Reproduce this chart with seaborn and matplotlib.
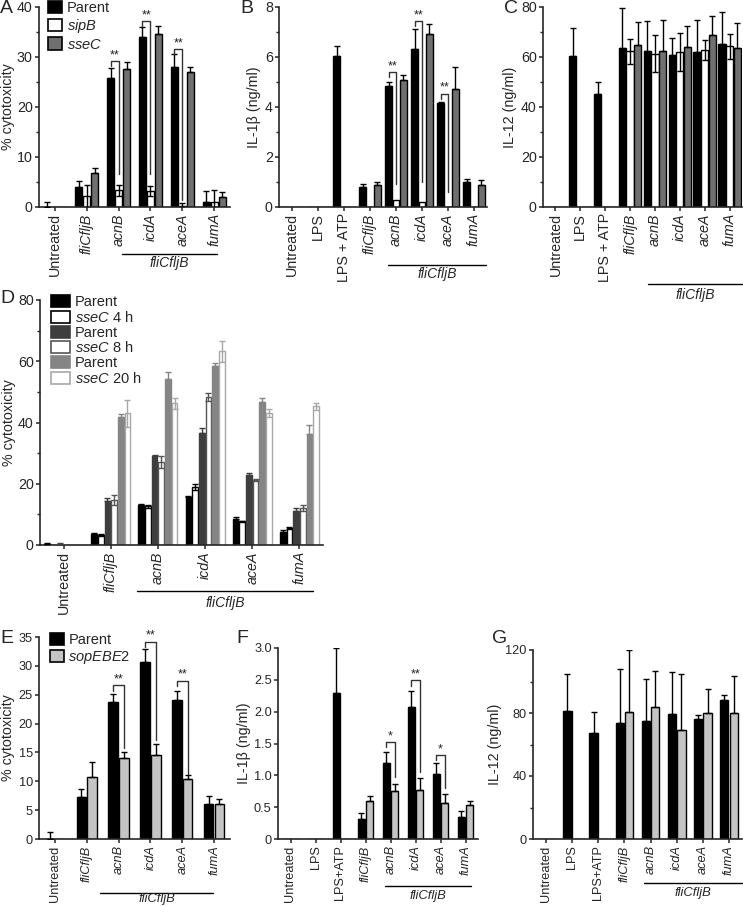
import numpy as np
import pandas as pd
import matplotlib
matplotlib.use("Agg")
import matplotlib.pyplot as plt
import matplotlib.transforms as mtransforms
from matplotlib.ticker import MultipleLocator
from matplotlib.patches import Patch
import seaborn as sns

# ---------------- data ----------------
# Panel A: % cytotoxicity
a_groups = ["Untreated", "fliCfljB", "acnB", "icdA", "aceA", "fumA"]
a_parent = [0, 4.0, 25.8, 33.9, 27.9, 1.0]
a_parent_err = [1.0, 1.1, 1.9, 2.0, 2.6, 2.3]
a_sipB = [0, 2.2, 3.4, 3.2, 0.3, 1.0]
a_sipB_err = [0, 2.3, 1.1, 0.9, 0.5, 2.5]
a_sseC = [0, 6.7, 27.6, 34.6, 27.0, 2.1]
a_sseC_err = [0, 1.1, 1.3, 1.5, 1.0, 0.9]
a_sig = [("acnB", 29.1, 6.5, "**"), ("icdA", 37.1, 6.5, "**"), ("aceA", 31.5, 1.4, "**")]

# Panel B: IL-1beta
b_groups = ["Untreated", "LPS", "LPS + ATP", "fliCfljB", "acnB", "icdA", "aceA", "fumA"]
b_parent = [0, 0, 6.05, 0.80, 4.83, 6.33, 4.15, 1.00]
b_parent_err = [0, 0, 0.37, 0.13, 0.17, 0.80, 0.03, 0.10]
b_sipB = [0, 0, 0, 0, 0.30, 0.22, 0, 0]
b_sipB_err = [0, 0, 0, 0, 0, 0, 0, 0]
b_sseC = [0, 0, 0, 0.87, 5.07, 6.93, 4.73, 0.90]
b_sseC_err = [0, 0, 0, 0.15, 0.22, 0.37, 0.87, 0.17]
b_sig = [("acnB", 5.4, 0.93, "**"), ("icdA", 7.43, 1.0, "**"), ("aceA", 4.53, 0.6, "**")]

# Panel C: IL-12
c_groups = b_groups
c_parent = [0, 60.5, 45.3, 63.5, 62.5, 60.8, 62.1, 65.1]
c_parent_err = [0, 11.1, 4.7, 16.2, 12.0, 6.9, 12.6, 13.0]
c_sipB = [0, 0, 0, 62.3, 61.3, 62.1, 62.7, 64.3]
c_sipB_err = [0, 0, 0, 5.0, 7.4, 7.6, 4.0, 5.0]
c_sseC = [0, 0, 0, 64.6, 62.5, 64.0, 68.9, 63.5]
c_sseC_err = [0, 0, 0, 9.5, 12.2, 8.3, 7.6, 10.1]

# Panel D: % cytotoxicity over time
d_groups = ["Untreated", "fliCfljB", "acnB", "icdA", "aceA", "fumA"]
d_parent_4h = [0.2, 3.6, 13.0, 15.6, 8.6, 4.3]
d_parent_4h_err = [0.5, 0.4, 0.4, 0.3, 0.6, 0.5]
d_sseC_4h = [0, 3.3, 12.7, 19.0, 7.7, 5.6]
d_sseC_4h_err = [0, 0.3, 0.5, 1.0, 0.2, 0.3]
d_parent_8h = [0.1, 14.3, 29.0, 36.7, 22.8, 11.2]
d_parent_8h_err = [0.4, 1.0, 0.5, 1.5, 0.8, 0.8]
d_sseC_8h = [0, 14.8, 27.0, 48.3, 21.2, 12.0]
d_sseC_8h_err = [0, 1.6, 1.9, 1.3, 0.3, 1.0]
d_parent_20h = [0, 41.8, 54.3, 58.6, 46.6, 36.1]
d_parent_20h_err = [0, 1.0, 2.2, 0.8, 1.3, 3.2]
d_sseC_20h = [0, 43.0, 46.3, 63.3, 43.1, 45.3]
d_sseC_20h_err = [0, 4.5, 1.8, 3.4, 1.2, 1.2]

# Panel E: % cytotoxicity, sopEBE2
e_groups = a_groups
e_parent = [0, 7.2, 23.8, 30.6, 24.1, 6.1]
e_parent_err = [1.15, 1.4, 1.3, 2.3, 1.6, 1.4]
e_sop = [0, 10.8, 14.1, 14.6, 10.4, 6.0]
e_sop_err = [0, 2.5, 1.0, 1.8, 0.7, 1.0]
e_sig = [("acnB", 26.6, 15.75, "**"), ("icdA", 34.2, 17.2, "**"), ("aceA", 27.4, 11.3, "**")]

# Panel F: IL-1beta, sopEBE2
f_groups = ["Untreated", "LPS", "LPS+ATP", "fliCfljB", "acnB", "icdA", "aceA", "fumA"]
f_parent = [0, 0, 2.30, 0.32, 1.20, 2.07, 1.02, 0.35]
f_parent_err = [0, 0, 0.70, 0.09, 0.17, 0.26, 0.18, 0.09]
f_sop = [0, 0, 0, 0.59, 0.75, 0.77, 0.56, 0.53]
f_sop_err = [0, 0, 0, 0.09, 0.12, 0.19, 0.15, 0.07]
f_sig = [("acnB", 1.52, 0.98, "*"), ("icdA", 2.49, 1.06, "**"), ("aceA", 1.32, 0.80, "*")]

# Panel G: IL-12, sopEBE2
g_groups = f_groups
g_parent = [0, 81.0, 67.2, 73.6, 75.0, 79.3, 76.1, 88.4]
g_parent_err = [0, 24.0, 13.3, 34.4, 26.5, 26.7, 2.7, 3.1]
g_sop = [0, 0, 0, 80.5, 83.7, 69.3, 79.9, 80.3]
g_sop_err = [0, 0, 0, 39.5, 22.8, 35.7, 15.1, 23.5]

# ---------------- style ----------------
sns.set_style("ticks")
plt.rcParams["font.family"] = ["Liberation Sans", "DejaVu Sans"]
plt.rcParams["mathtext.fontset"] = "custom"
plt.rcParams["mathtext.rm"] = "Liberation Sans"
plt.rcParams["mathtext.it"] = "Liberation Sans:italic"
plt.rcParams["axes.linewidth"] = 1.2
plt.rcParams["axes.labelpad"] = 2.5
plt.rcParams["xtick.major.width"] = 1.1
plt.rcParams["ytick.major.width"] = 1.1
plt.rcParams["ytick.minor.width"] = 1.0

W, H = 743, 906
fig = plt.figure(figsize=(W / 100, H / 100), dpi=100)

PLAIN = {"Untreated", "LPS", "LPS + ATP", "LPS+ATP"}
BLACK, WHITE = "#000000", "#ffffff"


def make_ax(x0, y0, x1, y1):
    return fig.add_axes([x0 / W, 1 - y1 / H, (x1 - x0) / W, (y1 - y0) / H])


def bars(ax, groups, names, vals, errs, fills, edges, width, gap, two_sided, fs=10.3):
    rows = []
    for n, vs in zip(names, vals):
        for g, v in zip(groups, vs):
            rows.append((g, n, v))
    df = pd.DataFrame(rows, columns=["group", "series", "value"])
    sns.barplot(data=df, x="group", y="value", hue="series", order=groups,
                hue_order=names, palette=dict(zip(names, fills)), saturation=1,
                width=width, gap=gap, errorbar=None, edgecolor="black",
                linewidth=1, legend=False, ax=ax)
    for cont, err, edge, two in zip(ax.containers, errs, edges, two_sided):
        xs, hs, lo, hi = [], [], [], []
        for bar, e in zip(cont, err):
            bar.set_edgecolor(edge)
            if e > 0:
                xs.append(bar.get_x() + bar.get_width() / 2)
                hs.append(bar.get_height())
                lo.append(e if two else 0)
                hi.append(e)
        if xs:
            ax.errorbar(xs, hs, yerr=[lo, hi], fmt="none", ecolor=edge,
                        elinewidth=1, capsize=2, capthick=1, zorder=3)
    ax.set_xlim(-0.5, len(groups) - 0.5)
    ax.set_xlabel("")
    ax.set_xticks(range(len(groups)))
    ax.set_xticklabels(groups, rotation=90, fontsize=fs)
    for lab, g in zip(ax.get_xticklabels(), groups):
        if g not in PLAIN:
            lab.set_fontstyle("italic")
    ax.tick_params(axis="x", length=3, pad=1.5)
    ax.tick_params(axis="y", labelsize=fs, length=3, pad=1.5)
    ax.tick_params(axis="y", which="minor", length=2)
    sns.despine(ax=ax)


def bracket(ax, groups, sig, tick):
    for g, top, low, lab in sig:
        i = groups.index(g)
        b0 = ax.containers[0][i]
        b1 = ax.containers[1][i]
        x0 = b0.get_x() + b0.get_width() / 2
        x1 = b1.get_x() + b1.get_width() / 2
        ax.plot([x0, x0, x1, x1], [top - tick, top, top, low], color="#333333",
                lw=1, zorder=4, clip_on=False)
        ax.text((x0 + x1) / 2, top, lab, ha="center", va="bottom",
                fontsize=9, color="#222222")


def under(ax, x0, x1, line_px, text_px, fs=10):
    base = mtransforms.blended_transform_factory(ax.transData, ax.transAxes)
    t_line = base + mtransforms.ScaledTranslation(0, -line_px / 100, fig.dpi_scale_trans)
    t_text = base + mtransforms.ScaledTranslation(0, -text_px / 100, fig.dpi_scale_trans)
    ax.plot([x0, x1], [0, 0], transform=t_line, color="black", lw=1, clip_on=False)
    ax.text((x0 + x1) / 2, 0, "fliCfljB", transform=t_text, ha="center",
            va="center", fontsize=fs, fontstyle="italic")


def legend(ax, labels, fills, edges, anchor, hl=1.0, spacing=0.15):
    handles = [Patch(facecolor=f, edgecolor=e, linewidth=1.2, label=l)
               for l, f, e in zip(labels, fills, edges)]
    ax.legend(handles=handles, loc="upper left", bbox_to_anchor=anchor,
              frameon=False, fontsize=10.5, handlelength=hl, handleheight=0.9,
              handletextpad=0.3, labelspacing=spacing, borderpad=0,
              borderaxespad=0)


GRAY = "#707070"
LIGHT = "#c4c4c4"

# ---------------- A ----------------
ax = make_ax(39, 7, 230, 207)
bars(ax, a_groups, ["Parent", "sipB", "sseC"], [a_parent, a_sipB, a_sseC],
     [a_parent_err, a_sipB_err, a_sseC_err], [BLACK, WHITE, GRAY],
     [BLACK, BLACK, BLACK], 0.75, 0.12, [False, True, False])
ax.set_ylim(0, 40)
ax.yaxis.set_major_locator(MultipleLocator(10))
ax.yaxis.set_minor_locator(MultipleLocator(5))
ax.set_ylabel("% cytotoxicity", fontsize=10.3, labelpad=1)
bracket(ax, a_groups, a_sig, 1.0)
under(ax, 2.1, 5.1, 47, 56)
legend(ax, ["Parent", r"$\it{sipB}$", r"$\it{sseC}$"], [BLACK, WHITE, GRAY],
       [BLACK, BLACK, BLACK], (0.045, 1.03))

# ---------------- B ----------------
ax = make_ax(279, 7, 487, 207)
bars(ax, b_groups, ["Parent", "sipB", "sseC"], [b_parent, b_sipB, b_sseC],
     [b_parent_err, b_sipB_err, b_sseC_err], [BLACK, WHITE, GRAY],
     [BLACK, BLACK, BLACK], 0.85, 0.12, [False, True, False])
ax.set_ylim(0, 8)
ax.yaxis.set_major_locator(MultipleLocator(2))
ax.yaxis.set_minor_locator(MultipleLocator(1))
ax.set_ylabel("IL-1β (ng/ml)", fontsize=10.3)
bracket(ax, b_groups, b_sig, 0.2)
under(ax, 3.7, 7.45, 58, 67)

# ---------------- C ----------------
ax = make_ax(543, 7, 742, 207)
bars(ax, c_groups, ["Parent", "sipB", "sseC"], [c_parent, c_sipB, c_sseC],
     [c_parent_err, c_sipB_err, c_sseC_err], [BLACK, WHITE, GRAY],
     [BLACK, BLACK, BLACK], 0.92, 0.05, [False, True, False])
ax.set_ylim(0, 80)
ax.yaxis.set_major_locator(MultipleLocator(20))
ax.yaxis.set_minor_locator(MultipleLocator(10))
ax.set_ylabel("IL-12 (ng/ml)", fontsize=10.3)
under(ax, 3.72, 7.5, 77, 88)

# ---------------- D ----------------
ax = make_ax(40, 300, 323, 545)
d_names = ["P4", "S4", "P8", "S8", "P20", "S20"]
d_fills = [BLACK, WHITE, "#3e3e3e", WHITE, "#858585", WHITE]
d_edges = [BLACK, BLACK, "#3e3e3e", "#555555", "#858585", "#a8a8a8"]
bars(ax, d_groups, d_names,
     [d_parent_4h, d_sseC_4h, d_parent_8h, d_sseC_8h, d_parent_20h, d_sseC_20h],
     [d_parent_4h_err, d_sseC_4h_err, d_parent_8h_err, d_sseC_8h_err,
      d_parent_20h_err, d_sseC_20h_err],
     d_fills, d_edges, 0.85, 0.15, [False, True, False, True, False, True])
ax.set_ylim(0, 80)
ax.yaxis.set_major_locator(MultipleLocator(20))
ax.yaxis.set_minor_locator(MultipleLocator(10))
ax.set_ylabel("% cytotoxicity", fontsize=10.3, labelpad=1.5)
under(ax, 1.56, 5.28, 46, 58)
legend(ax, ["Parent", r"$\it{sseC}$ 4 h", "Parent", r"$\it{sseC}$ 8 h", "Parent",
            r"$\it{sseC}$ 20 h"], d_fills, d_edges, (0.04, 1.02), hl=1.3,
       spacing=0.05)

# ---------------- E ----------------
ax = make_ax(39, 637, 230, 839)
bars(ax, e_groups, ["Parent", "sopEBE2"], [e_parent, e_sop],
     [e_parent_err, e_sop_err], [BLACK, LIGHT], [BLACK, BLACK], 0.68, 0.12,
     [False, False], fs=9.2)
ax.set_ylim(0, 35)
ax.yaxis.set_major_locator(MultipleLocator(5))
ax.set_ylabel("% cytotoxicity", fontsize=10.3)
bracket(ax, e_groups, e_sig, 0.9)
under(ax, 1.42, 4.97, 54, 60, fs=9.4)
legend(ax, ["Parent", r"$\it{sopEBE2}$"], [BLACK, LIGHT], [BLACK, BLACK],
       (0.055, 1.02))

# ---------------- F ----------------
ax = make_ax(278, 648, 478, 839)
bars(ax, f_groups, ["Parent", "sopEBE2"], [f_parent, f_sop],
     [f_parent_err, f_sop_err], [BLACK, LIGHT], [BLACK, BLACK], 0.68, 0.12,
     [False, False], fs=9.2)
ax.set_ylim(0, 3.0)
ax.set_yticks([0, 0.5, 1.0, 1.5, 2.0, 2.5, 3.0])
ax.set_yticklabels(["0", "0.5", "1.0", "1.5", "2.0", "2.5", "3.0"])
ax.set_ylabel("IL-1β (ng/ml)", fontsize=10.3)
bracket(ax, f_groups, f_sig, 0.08)
under(ax, 3.78, 7.22, 47, 57, fs=9.4)

# ---------------- G ----------------
ax = make_ax(533, 650, 742, 839)
bars(ax, g_groups, ["Parent", "sopEBE2"], [g_parent, g_sop],
     [g_parent_err, g_sop_err], [BLACK, LIGHT], [BLACK, BLACK], 0.72, 0.12,
     [False, False], fs=9.2)
ax.set_ylim(0, 120)
ax.yaxis.set_major_locator(MultipleLocator(40))
ax.yaxis.set_minor_locator(MultipleLocator(20))
ax.set_ylabel("IL-12 (ng/ml)", fontsize=10.3)
under(ax, 3.75, 7.5, 44, 54, fs=9.4)

# ---------------- panel letters ----------------
for letter, px, py in [("A", 0, 0), ("B", 240, 0), ("C", 504, 0), ("D", 0, 290),
                       ("E", 0, 630), ("F", 236, 630), ("G", 492, 630)]:
    fig.text(px / W, 1 - py / H, letter, fontsize=14, va="top", ha="left")

fig.savefig("out.png", dpi=100)
